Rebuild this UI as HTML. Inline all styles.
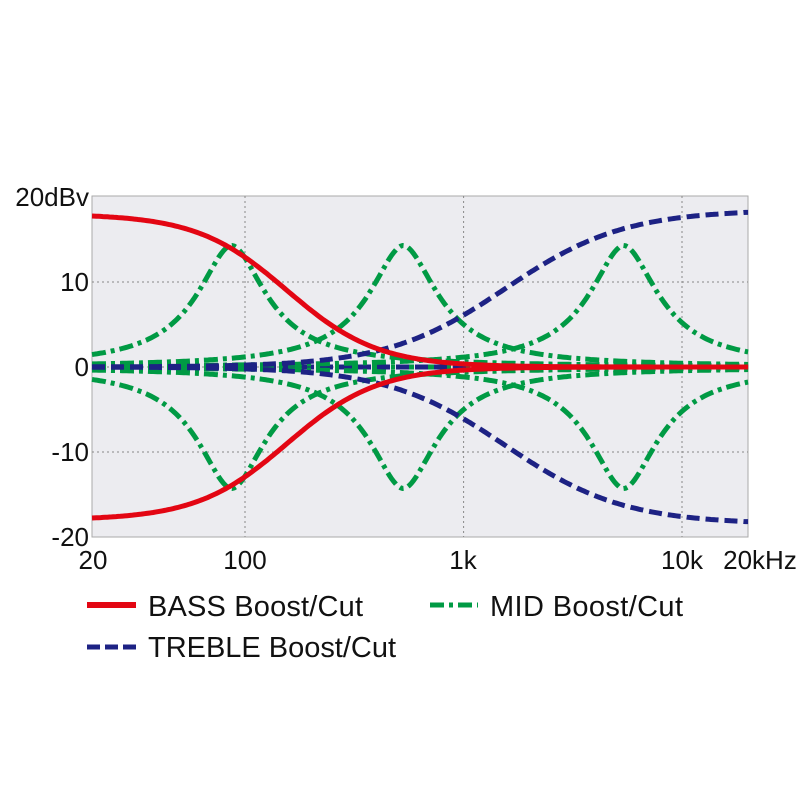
<!DOCTYPE html>
<html><head><meta charset="utf-8"><style>
html,body{margin:0;padding:0;background:#fff;}
svg text{font-family:"Liberation Sans",Arial,sans-serif;font-size:26px;fill:#111;}
svg text.lg{font-size:29px;}
</style></head><body>
<svg id="s" width="800" height="800" viewBox="0 0 800 800" xmlns="http://www.w3.org/2000/svg">
<rect x="92" y="196" width="656" height="341" fill="#ececf0" stroke="#aaa" stroke-width="1"/>
<g stroke="#888" stroke-width="1" stroke-dasharray="2,3">
<line x1="245" y1="196" x2="245" y2="537"/>
<line x1="463.6" y1="196" x2="463.6" y2="537"/>
<line x1="682" y1="196" x2="682" y2="537"/>
<line x1="92" y1="282" x2="748" y2="282"/>
<line x1="92" y1="367" x2="748" y2="367"/>
<line x1="92" y1="452" x2="748" y2="452"/>
</g>
<g id="curves"></g>
<g text-anchor="end">
<text x="89" y="206">20dBv</text>
<text x="89" y="291">10</text>
<text x="89" y="376">0</text>
<text x="89" y="461">-10</text>
<text x="89" y="546">-20</text>
</g>
<g text-anchor="middle">
<text x="93" y="569">20</text>
<text x="245" y="569">100</text>
<text x="463" y="569">1k</text>
<text x="682" y="569">10k</text>
<text x="760" y="569">20kHz</text>
</g>
<line x1="87" y1="605" x2="136" y2="605" stroke="#e30613" stroke-width="6"/>
<text class="lg" x="148" y="616" textLength="215">BASS Boost/Cut</text>
<line x1="430" y1="605" x2="478" y2="605" stroke="#009a44" stroke-width="5" stroke-dasharray="14,5,4,5"/>
<text class="lg" x="490" y="616" textLength="193">MID Boost/Cut</text>
<line x1="87" y1="647" x2="136" y2="647" stroke="#1d2284" stroke-width="5" stroke-dasharray="13,5"/>
<text class="lg" x="148" y="657" textLength="248">TREBLE Boost/Cut</text>
</svg>
<script>
(function(){
var g=document.getElementById('curves');
function X(f){return 92+218.7*Math.log10(f/20);}
function Y(d){return 367-8.5*d;}
function path(fn){var d='';for(var i=0;i<=300;i++){var f=20*Math.pow(1000,i/300);d+=(i?'L':'M')+X(f).toFixed(1)+','+Y(fn(f)).toFixed(1);}return d;}
function add(fn,col,dash){var p=document.createElementNS('http://www.w3.org/2000/svg','path');p.setAttribute('d',path(fn));p.setAttribute('fill','none');p.setAttribute('stroke',col);p.setAttribute('stroke-width','5');if(dash)p.setAttribute('stroke-dasharray',dash);g.appendChild(p);}
var G='#009a44',B='#1d2284',R='#e30613',GD='14,5,4,5',BD='13,6';
add(function(){return 0;},G,GD);
add(function(){return 0;},B,BD);
[87,530,5400].forEach(function(f0){[1,-1].forEach(function(s){add(function(f){var l=Math.abs(Math.log10(f/f0));return s*14.3/(1+8.5*Math.pow(l/0.628,1.85));},G,GD);});});
[1,-1].forEach(function(s){add(function(f){return s*18.5/(1+Math.pow(1557/f,1.6));},B,BD);});
[1,-1].forEach(function(s){add(function(f){return s*18/(1+Math.pow(f/156,2.1));},R,null);});
})();
</script>
</body></html>
